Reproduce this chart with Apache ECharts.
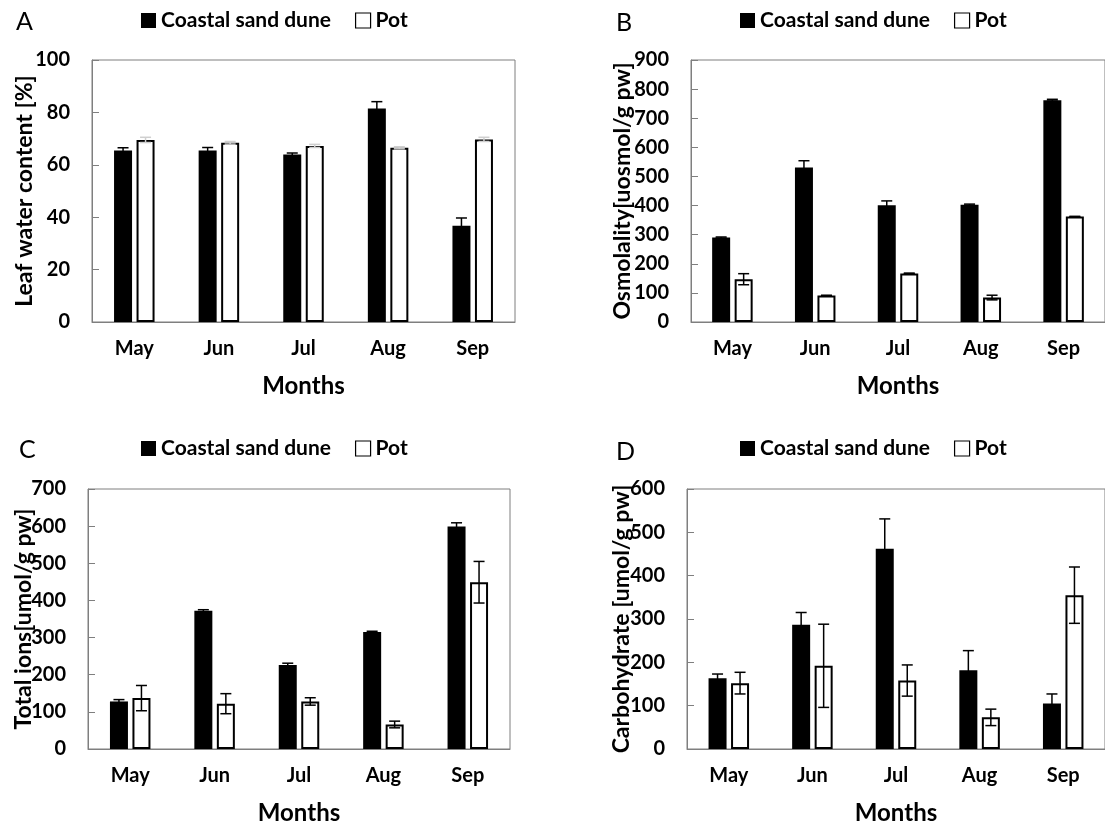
<!DOCTYPE html>
<html>
<head>
<meta charset="utf-8">
<script src="https://cdn.jsdelivr.net/npm/echarts@6/dist/echarts.min.js"></script>
<style>
  html, body { margin: 0; padding: 0; background: #fff; }
  #chart { width: 1105px; height: 827px; }
</style>
</head>
<body>
<div id="chart"></div>
<script>
var months = ['May', 'Jun', 'Jul', 'Aug', 'Sep']

// A - leaf water content [%]
var waterDune = [65.5, 65.5, 63.9, 81.5, 36.7]
var waterDuneErr = [1.0, 1.1, 0.6, 2.6, 3.0]
var waterPot = [69.5, 68.4, 67.2, 66.5, 69.7]
var waterPotErr = [1.0, 0.5, 0.6, 0.4, 0.8]

// B - osmolality
var osmoDune = [290, 531, 401, 403, 762]
var osmoDuneErr = [2, 23, 15, 2, 3]
var osmoPot = [147, 91, 167, 84, 362]
var osmoPotErr = [19, 1, 1, 8, 1]

// C - total ions
var ionsDune = [128, 372, 226, 315, 599]
var ionsDuneErr = [5, 3, 5, 2, 10]
var ionsPot = [137, 122, 128, 66, 449]
var ionsPotErr = [34, 27, 10, 9, 56]

// D - carbohydrate
var carbDune = [163, 287, 462, 182, 105]
var carbDuneErr = [10, 28, 69, 45, 22]
var carbPot = [152, 192, 158, 73, 355]
var carbPotErr = [25, 96, 36, 19, 65]

var FONT = 'Lato'
var GRAY = '#7f7f7f'

var grids = [
	{ left: 92, top: 60, width: 423, height: 262 },
	{ left: 691, top: 60, width: 421, height: 262 },
	{ left: 88, top: 489, width: 422, height: 260 },
	{ left: 687, top: 489, width: 420, height: 260 }
]
var yNames = ['Leaf water content [%]', 'Osmolality[uosmol/g pw]', 'Total ions[umol/g pw]', 'Carbohydrate [umol/g pw]']
var yMax = [100, 900, 700, 600]
var yStep = [20, 100, 100, 100]
var yGap = [56, 57, 53, 54]
var letters = ['A', 'B', 'C', 'D']

function errSeries(gi, vals, errs, offset, color) {
	return {
		type: 'custom',
		xAxisIndex: gi,
		yAxisIndex: gi,
		z: 5,
		silent: true,
		data: vals.map(function(v, i) { return [i, v - errs[i], v + errs[i]] }),
		encode: { x: 0, y: [1, 2] },
		renderItem: function(params, api) {
			var lo = api.coord([api.value(0), api.value(1)])
			var hi = api.coord([api.value(0), api.value(2)])
			var x = lo[0] + offset
			var c = 5.5
			var st = { stroke: color, lineWidth: 1.5 }
			return {
				type: 'group',
				children: [
					{ type: 'line', shape: { x1: x, y1: lo[1], x2: x, y2: hi[1] }, style: st },
					{ type: 'line', shape: { x1: x - c, y1: hi[1], x2: x + c, y2: hi[1] }, style: st },
					{ type: 'line', shape: { x1: x - c, y1: lo[1], x2: x + c, y2: lo[1] }, style: st }
				]
			}
		}
	}
}

function barPair(gi, dune, pot) {
	return [
		{
			name: 'Coastal sand dune', type: 'bar', xAxisIndex: gi, yAxisIndex: gi,
			barWidth: 18, barGap: '25%', data: dune,
			itemStyle: { color: '#000' }
		},
		{
			name: 'Pot', type: 'bar', xAxisIndex: gi, yAxisIndex: gi,
			barWidth: 18, barGap: '25%', data: pot,
			itemStyle: { color: '#fff', borderColor: '#000', borderWidth: 2 }
		}
	]
}

var series = [].concat(
	barPair(0, waterDune, waterPot),
	barPair(1, osmoDune, osmoPot),
	barPair(2, ionsDune, ionsPot),
	barPair(3, carbDune, carbPot),
	[
		errSeries(0, waterDune, waterDuneErr, -11.25, '#000'),
		errSeries(0, waterPot, waterPotErr, 11.25, '#cfcfcf'),
		errSeries(1, osmoDune, osmoDuneErr, -11.25, '#000'),
		errSeries(1, osmoPot, osmoPotErr, 11.25, '#000'),
		errSeries(2, ionsDune, ionsDuneErr, -11.25, '#000'),
		errSeries(2, ionsPot, ionsPotErr, 11.25, '#000'),
		errSeries(3, carbDune, carbDuneErr, -11.25, '#000'),
		errSeries(3, carbPot, carbPotErr, 11.25, '#000')
	]
)

var legendLeft = [141, 740, 141, 740]
var legendTop = [10, 10, 438, 438]

var option = {
	animation: false,
	textStyle: { fontFamily: FONT },
	grid: grids.map(function(g) {
		return Object.assign({ show: true, borderColor: GRAY, borderWidth: 1 }, g)
	}),
	legend: grids.map(function(g, i) {
		return {
			left: legendLeft[i], top: legendTop[i], padding: 0,
			icon: 'rect', itemWidth: 15, itemHeight: 15, itemGap: 24,
			selectedMode: false,
			textStyle: { fontFamily: FONT, fontSize: 21, fontWeight: 'bold', color: '#000' },
			data: [
				{ name: 'Coastal sand dune', itemStyle: { color: '#000' } },
				{ name: 'Pot', itemStyle: { color: '#fff', borderColor: '#000', borderWidth: 1.2 } }
			]
		}
	}),
	xAxis: grids.map(function(g, i) {
		return {
			type: 'category', gridIndex: i, data: months,
			axisLine: { lineStyle: { color: GRAY } },
			axisTick: { show: false },
			axisLabel: { margin: 17, fontFamily: FONT, fontSize: 20, fontWeight: 'bold', color: '#000' },
			name: 'Months', nameLocation: 'middle', nameGap: 52, nameMoveOverlap: false,
			nameTextStyle: { fontFamily: FONT, fontSize: 24, fontWeight: 'bold', color: '#000' }
		}
	}),
	yAxis: grids.map(function(g, i) {
		return {
			type: 'value', gridIndex: i, min: 0, max: yMax[i], interval: yStep[i],
			axisLine: { show: true, lineStyle: { color: GRAY } },
			axisTick: { show: true, inside: true, length: 7, lineStyle: { color: GRAY } },
			splitLine: { show: false },
			axisLabel: { margin: 22, fontFamily: FONT, fontSize: 20, fontWeight: 'bold', color: '#000' },
			name: yNames[i], nameLocation: 'middle', nameRotate: 90, nameGap: yGap[i], nameMoveOverlap: false,
			nameTextStyle: { fontFamily: FONT, fontSize: 23, fontWeight: 'bold', color: '#000' }
		}
	}),
	graphic: [
		{ type: 'text', left: 16, top: 9, style: { text: letters[0], font: '25px Lato', fill: '#000' } },
		{ type: 'text', left: 616, top: 10, style: { text: letters[1], font: '25px Lato', fill: '#000' } },
		{ type: 'text', left: 19, top: 437, style: { text: letters[2], font: '25px Lato', fill: '#000' } },
		{ type: 'text', left: 616, top: 439, style: { text: letters[3], font: '25px Lato', fill: '#000' } }
	],
	series: series
}

var myChart = echarts.init(document.getElementById('chart'))
myChart.setOption(option)
</script>
</body>
</html>
